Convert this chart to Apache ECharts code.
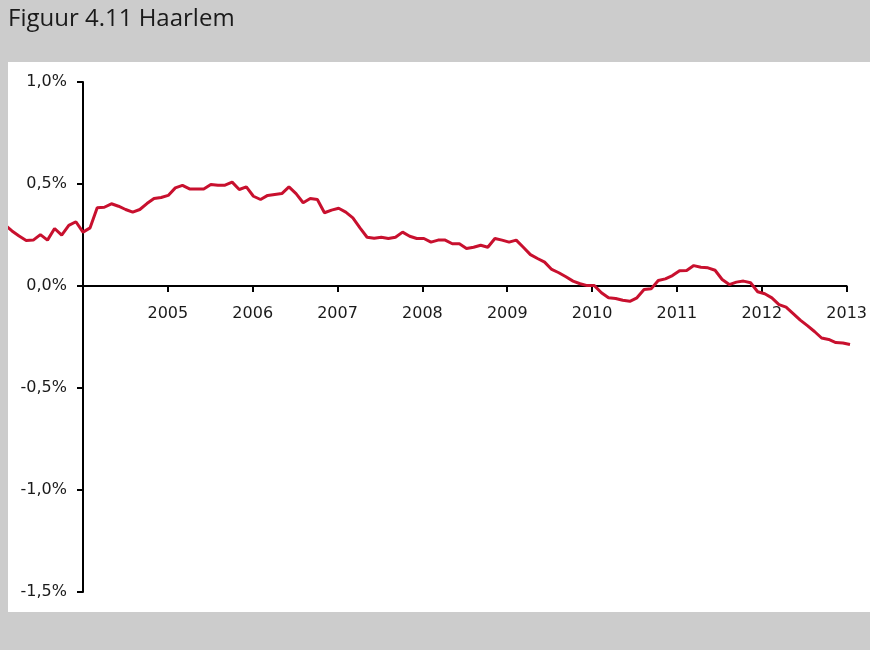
<!DOCTYPE html>
<html>
<head>
<meta charset="utf-8">
<script src="https://cdn.jsdelivr.net/npm/echarts@6/dist/echarts.min.js"></script>
<style>
  html, body { margin: 0; padding: 0; background: #cccccc; }
  #chart { width: 870px; height: 650px; }
</style>
</head>
<body>
<div id="chart"></div>
<script>
// monthly change (%), first point is Feb 2003 (11 months before Jan 2004)
const firstMonth = -11;
const values = [
  0.30, 0.27, 0.245, 0.223, 0.225, 0.252, 0.225, 0.282, 0.249, 0.297, 0.315,
  0.264, 0.285, 0.383, 0.386, 0.403, 0.391, 0.375, 0.362, 0.375, 0.404, 0.429, 0.434,
  0.444, 0.481, 0.493, 0.476, 0.476, 0.476, 0.498, 0.494, 0.494, 0.509, 0.473, 0.486,
  0.440, 0.424, 0.444, 0.449, 0.453, 0.486, 0.453, 0.408, 0.429, 0.424, 0.359, 0.372,
  0.381, 0.362, 0.334, 0.285, 0.239, 0.234, 0.239, 0.233, 0.239, 0.264, 0.244, 0.233,
  0.233, 0.215, 0.225, 0.225, 0.207, 0.207, 0.184, 0.190, 0.200, 0.190, 0.233, 0.225,
  0.215, 0.225, 0.190, 0.154, 0.135, 0.117, 0.081, 0.065, 0.045, 0.024, 0.011, 0.002,
  0.002, -0.033, -0.058, -0.061, -0.070, -0.075, -0.058, -0.017, -0.014, 0.027, 0.035, 0.051,
  0.075, 0.076, 0.100, 0.092, 0.089, 0.077, 0.032, 0.007, 0.019, 0.024, 0.016, -0.028,
  -0.038, -0.058, -0.091, -0.104, -0.135, -0.167, -0.194, -0.223, -0.255, -0.262, -0.277, -0.279,
  -0.287
];
const yearMin = 2004;
const yearMax = 2013;
const yMin = -1.5;
const yMax = 1.0;

const data = values.map((v, i) => [yearMin + (firstMonth + i) / 12, v]);

// layout: axes grid starts at 2004, the line grid reaches back to the first month
const gridTop = 82, gridBottom = 58, gridRight = 20, axisLeft = 83;
const plotH = 650 - gridTop - gridBottom;
const pxPerYear = (870 - axisLeft - gridRight) / (yearMax - yearMin);
const lineMin = yearMin + firstMonth / 12;
const lineLeft = axisLeft + (firstMonth / 12) * pxPerYear;
const zeroOffset = -plotH * (0 - yMin) / (yMax - yMin);

const chart = echarts.init(document.getElementById('chart'));
const labelFont = 'DejaVu Sans';
const labelStyle = { fontFamily: labelFont, fontSize: 16, color: '#1a1a1a' };
chart.setOption({
  backgroundColor: '#cccccc',
  animation: false,
  title: {
    text: 'Figuur 4.11 Haarlem',
    left: 3,
    top: 2,
    textStyle: { fontFamily: 'Open Sans', fontSize: 24, fontWeight: 'normal', color: '#1a1a1a' }
  },
  graphic: [
    { type: 'rect', z: -100, shape: { x: 8, y: 62, width: 862, height: 550 }, style: { fill: '#ffffff' } },
    { type: 'rect', z: 100, shape: { x: 0, y: 62, width: 8, height: 550 }, style: { fill: '#cccccc' } }
  ],
  grid: [
    { left: axisLeft, right: gridRight, top: gridTop, bottom: gridBottom },
    { left: lineLeft, right: gridRight, top: gridTop, bottom: gridBottom }
  ],
  xAxis: [{
    type: 'value',
    gridIndex: 0,
    min: yearMin,
    max: yearMax,
    interval: 1,
    offset: zeroOffset,
    axisLine: { onZero: false, lineStyle: { color: '#000', width: 2 } },
    axisTick: { length: 6, lineStyle: { color: '#000', width: 2 } },
    axisLabel: Object.assign({
      margin: 20,
      formatter: v => (v === yearMin ? '' : String(v))
    }, labelStyle),
    splitLine: { show: false }
  }, {
    type: 'value',
    gridIndex: 1,
    min: lineMin,
    max: yearMax,
    show: false
  }],
  yAxis: [{
    type: 'value',
    gridIndex: 0,
    min: yMin,
    max: yMax,
    interval: 0.5,
    axisLine: { show: true, onZero: false, lineStyle: { color: '#000', width: 2 } },
    axisTick: { show: true, length: 6, lineStyle: { color: '#000', width: 2 } },
    axisLabel: Object.assign({
      margin: 16,
      formatter: v => v.toFixed(1).replace('.', ',') + '%'
    }, labelStyle),
    splitLine: { show: false }
  }, {
    type: 'value',
    gridIndex: 1,
    min: yMin,
    max: yMax,
    show: false
  }],
  series: [{
    type: 'line',
    xAxisIndex: 1,
    yAxisIndex: 1,
    data: data,
    showSymbol: false,
    symbol: 'none',
    lineStyle: { color: '#c8102e', width: 3 }
  }]
});
</script>
</body>
</html>
